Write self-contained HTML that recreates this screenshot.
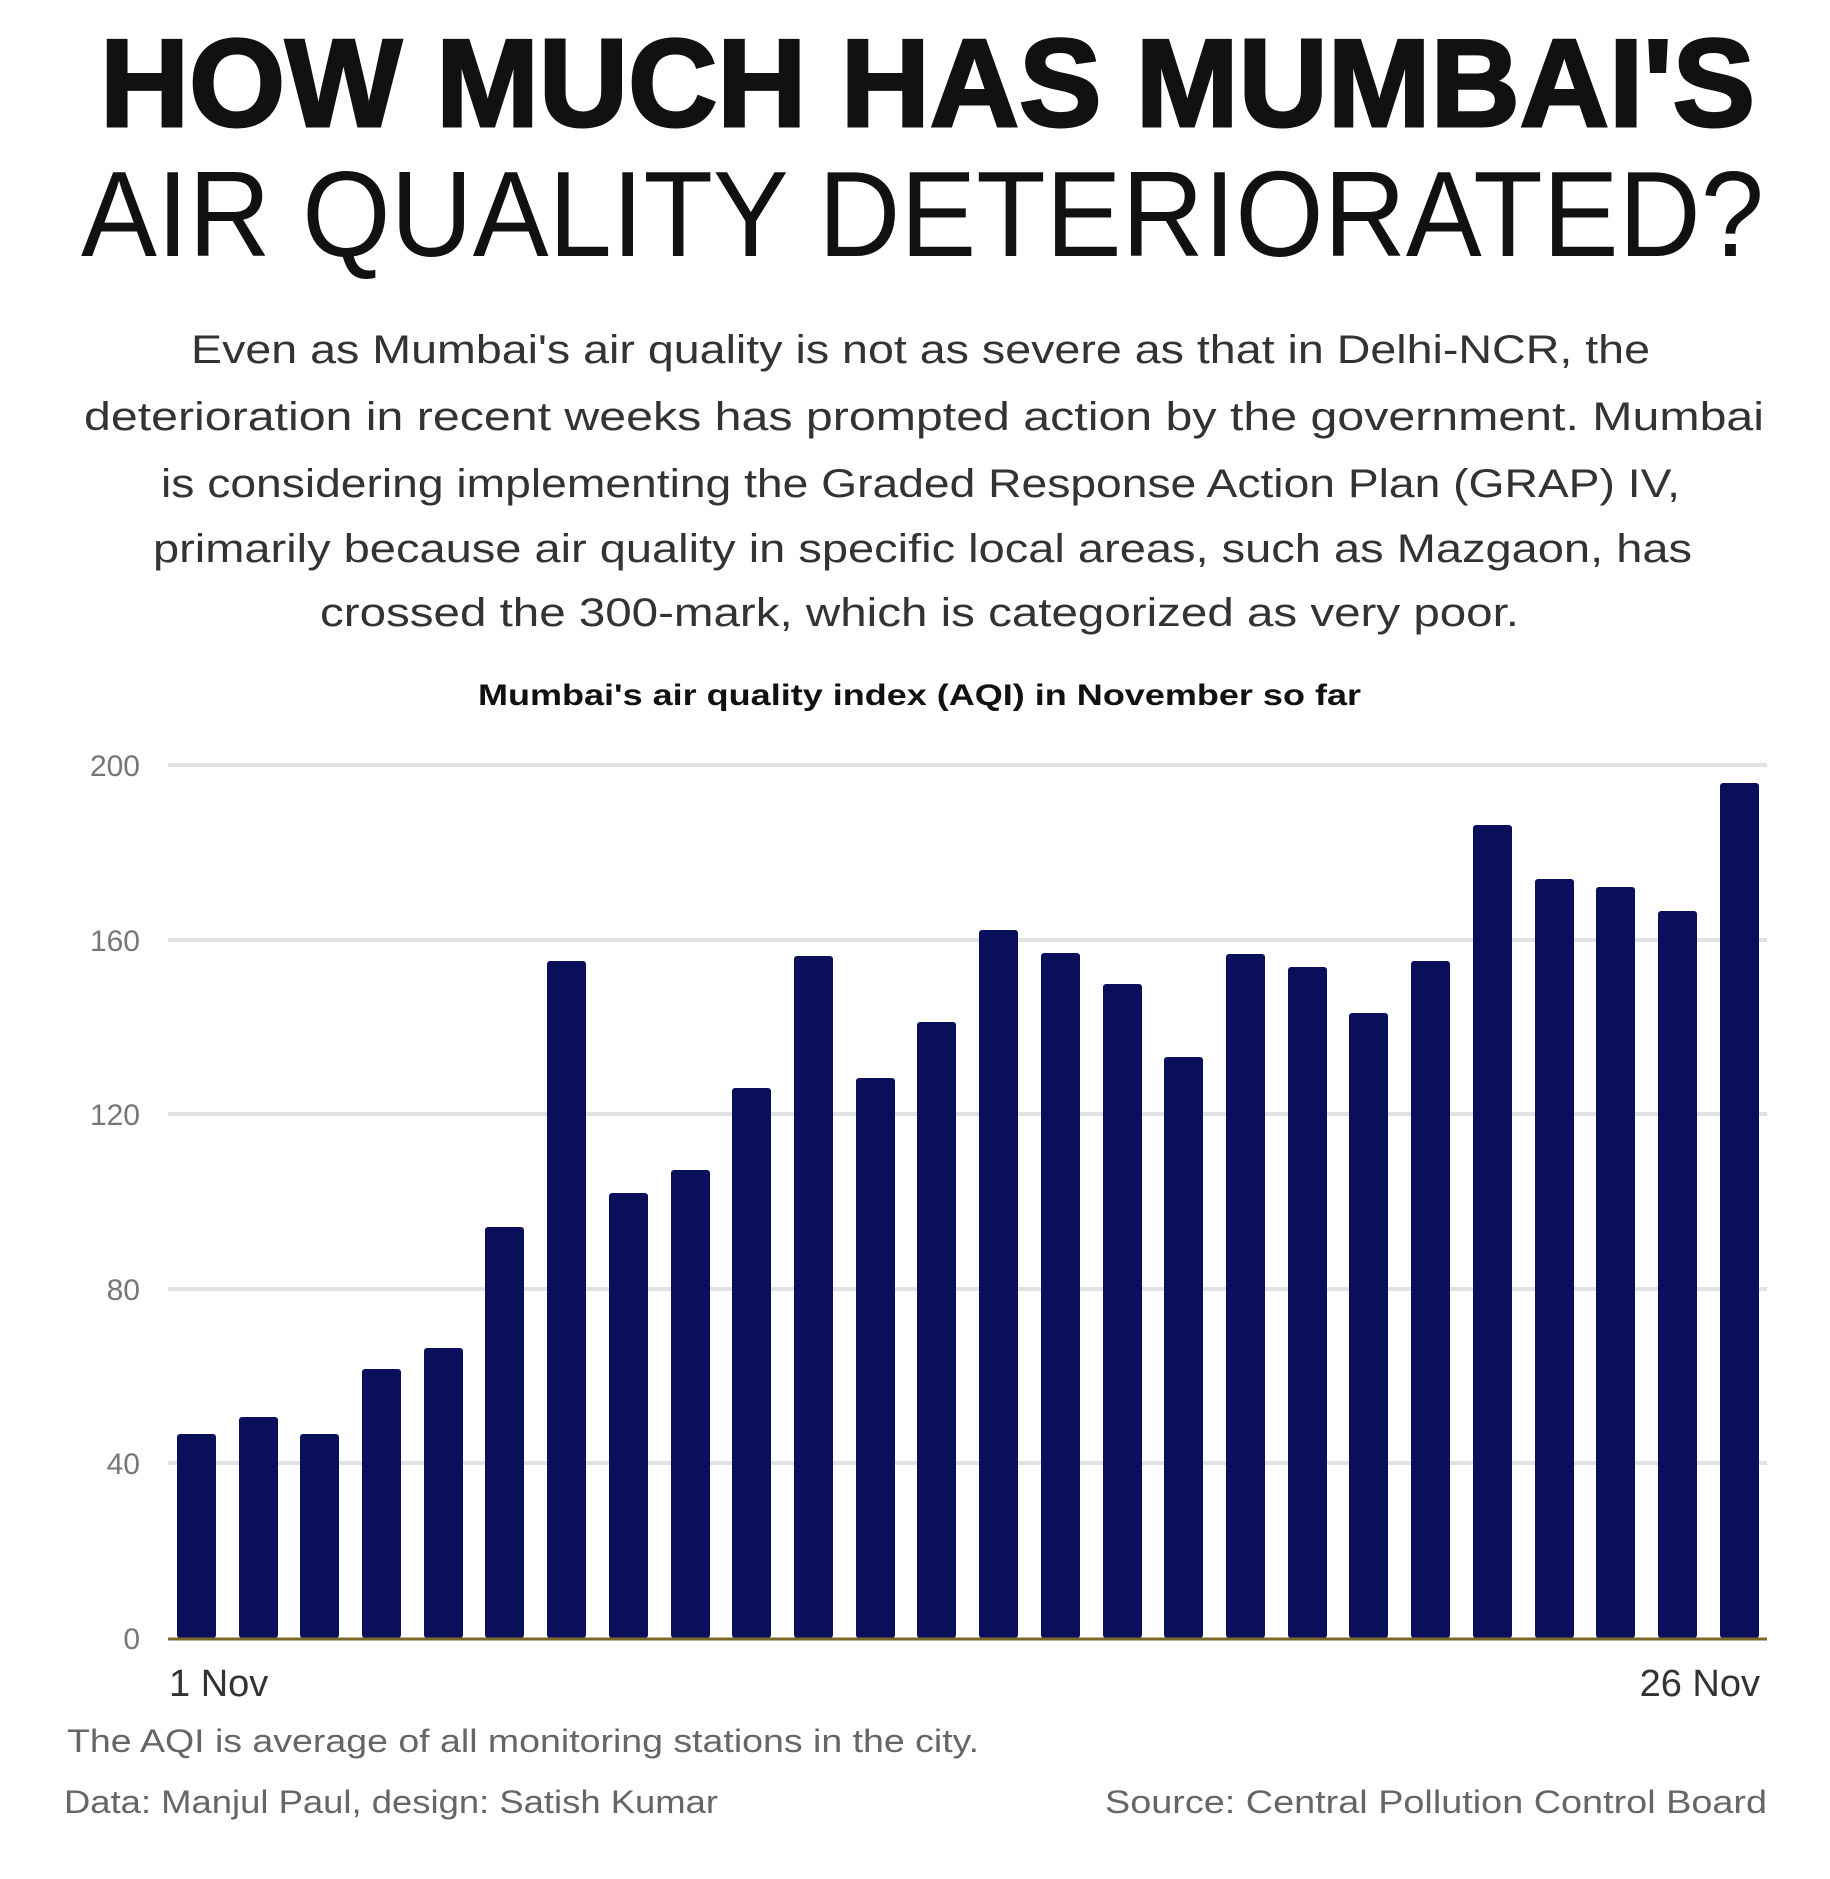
<!DOCTYPE html>
<html><head><meta charset="utf-8"><style>
html,body{margin:0;padding:0;background:#fff;}
svg{display:block;}
</style></head><body>
<svg width="1830" height="1879" xmlns="http://www.w3.org/2000/svg" font-family="Liberation Sans, sans-serif">
<rect width="1830" height="1879" fill="#fff"/>
<text x="100" y="126" font-size="124" font-weight="bold" fill="#111" stroke="#111" stroke-width="3" textLength="1655" lengthAdjust="spacingAndGlyphs">HOW MUCH HAS MUMBAI'S</text>
<text x="81" y="256" font-size="122" fill="#111" textLength="1683" lengthAdjust="spacingAndGlyphs">AIR QUALITY DETERIORATED?</text>
<g font-size="40" fill="#333">
<text x="191" y="363" textLength="1459" lengthAdjust="spacingAndGlyphs">Even as Mumbai's air quality is not as severe as that in Delhi-NCR, the</text>
<text x="84" y="430" textLength="1680" lengthAdjust="spacingAndGlyphs">deterioration in recent weeks has prompted action by the government. Mumbai</text>
<text x="161" y="497" textLength="1519" lengthAdjust="spacingAndGlyphs">is considering implementing the Graded Response Action Plan (GRAP) IV,</text>
<text x="153" y="562" textLength="1539" lengthAdjust="spacingAndGlyphs">primarily because air quality in specific local areas, such as Mazgaon, has</text>
<text x="320" y="626" textLength="1199" lengthAdjust="spacingAndGlyphs">crossed the 300-mark, which is categorized as very poor.</text>
</g>
<text x="478" y="705" font-size="30" font-weight="bold" fill="#111" textLength="883" lengthAdjust="spacingAndGlyphs">Mumbai's air quality index (AQI) in November so far</text>
<g stroke="#e2e2e2" stroke-width="4">
<line x1="168" y1="765" x2="1767" y2="765"/>
<line x1="168" y1="940" x2="1767" y2="940"/>
<line x1="168" y1="1114" x2="1767" y2="1114"/>
<line x1="168" y1="1289" x2="1767" y2="1289"/>
<line x1="168" y1="1463" x2="1767" y2="1463"/>
</g>
<g font-size="30" fill="#777" text-anchor="end">
<text x="140" y="776">200</text><text x="140" y="951">160</text><text x="140" y="1125">120</text>
<text x="140" y="1300">80</text><text x="140" y="1474">40</text><text x="140" y="1649">0</text>
</g>
<g fill="#0a0f5c">
<rect x="177" y="1434" width="39" height="204" rx="3"/>
<rect x="239" y="1417" width="39" height="221" rx="3"/>
<rect x="300" y="1434" width="39" height="204" rx="3"/>
<rect x="362" y="1369" width="39" height="269" rx="3"/>
<rect x="424" y="1348" width="39" height="290" rx="3"/>
<rect x="485" y="1227" width="39" height="411" rx="3"/>
<rect x="547" y="961" width="39" height="677" rx="3"/>
<rect x="609" y="1193" width="39" height="445" rx="3"/>
<rect x="671" y="1170" width="39" height="468" rx="3"/>
<rect x="732" y="1088" width="39" height="550" rx="3"/>
<rect x="794" y="956" width="39" height="682" rx="3"/>
<rect x="856" y="1078" width="39" height="560" rx="3"/>
<rect x="917" y="1022" width="39" height="616" rx="3"/>
<rect x="979" y="930" width="39" height="708" rx="3"/>
<rect x="1041" y="953" width="39" height="685" rx="3"/>
<rect x="1103" y="984" width="39" height="654" rx="3"/>
<rect x="1164" y="1057" width="39" height="581" rx="3"/>
<rect x="1226" y="954" width="39" height="684" rx="3"/>
<rect x="1288" y="967" width="39" height="671" rx="3"/>
<rect x="1349" y="1013" width="39" height="625" rx="3"/>
<rect x="1411" y="961" width="39" height="677" rx="3"/>
<rect x="1473" y="825" width="39" height="813" rx="3"/>
<rect x="1535" y="879" width="39" height="759" rx="3"/>
<rect x="1596" y="887" width="39" height="751" rx="3"/>
<rect x="1658" y="911" width="39" height="727" rx="3"/>
<rect x="1720" y="783" width="39" height="855" rx="3"/>
</g>
<line x1="168" y1="1639" x2="1767" y2="1639" stroke="#7a6a2a" stroke-width="3"/>
<text x="169" y="1696" font-size="38" fill="#333">1 Nov</text>
<text x="1760" y="1696" font-size="38" fill="#333" text-anchor="end">26 Nov</text>
<text x="67" y="1752" font-size="32" fill="#666" textLength="912" lengthAdjust="spacingAndGlyphs">The AQI is average of all monitoring stations in the city.</text>
<text x="64" y="1813" font-size="32" fill="#666" textLength="654" lengthAdjust="spacingAndGlyphs">Data: Manjul Paul, design: Satish Kumar</text>
<text x="1767" y="1813" font-size="32" fill="#666" text-anchor="end" textLength="662" lengthAdjust="spacingAndGlyphs">Source: Central Pollution Control Board</text>
</svg>
</body></html>
